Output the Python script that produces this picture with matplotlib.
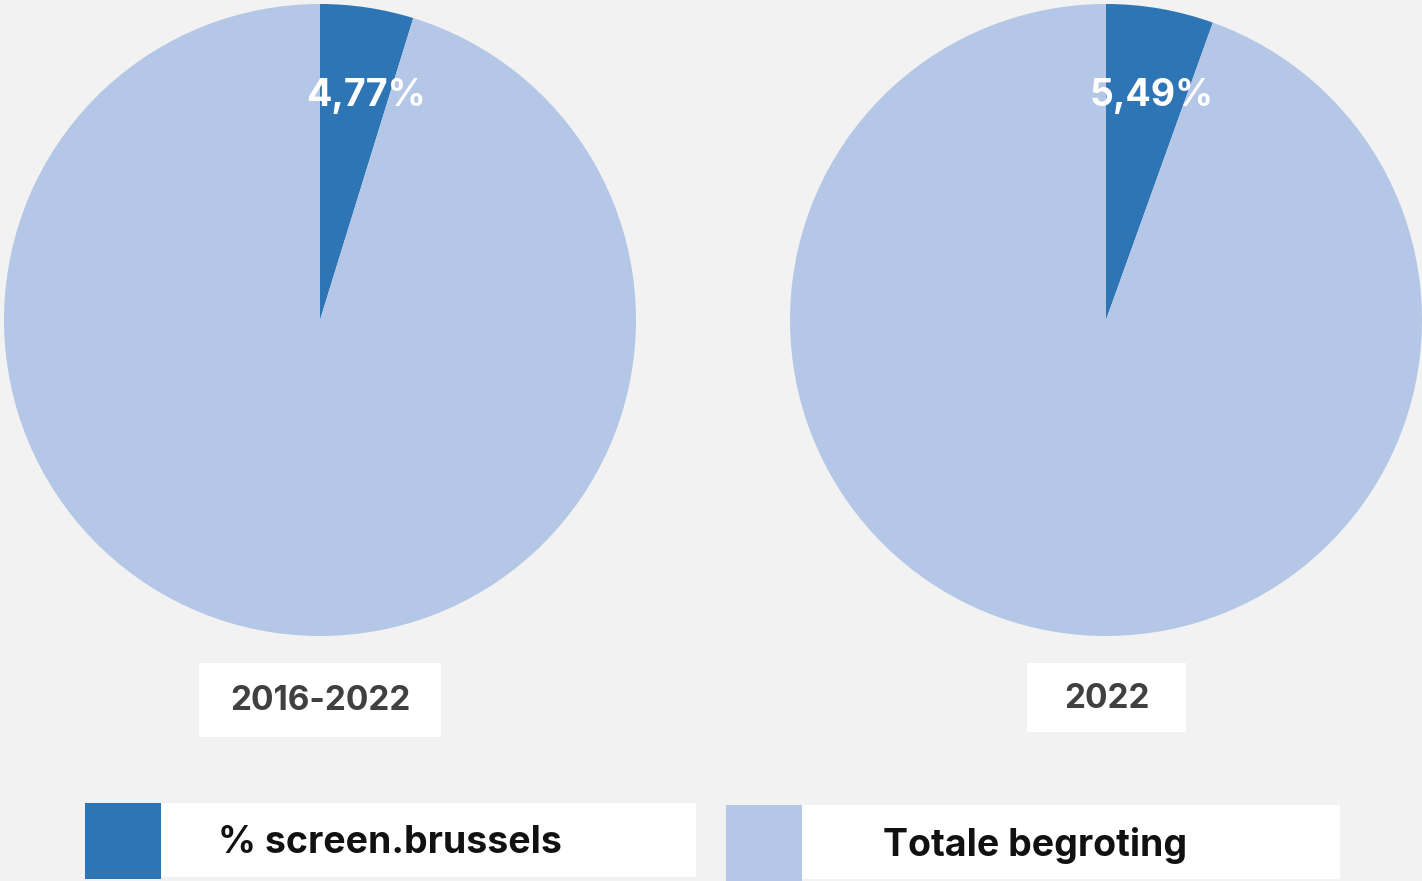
import matplotlib
matplotlib.use('Agg')
import matplotlib.pyplot as plt
from matplotlib.patches import Rectangle

# data
periods = ['2016-2022', '2022']
share_pct = [4.77, 5.49]
share_labels = ['4,77%', '5,49%']
legend_labels = ['% screen.brussels', 'Totale begroting']

DARK = '#2e75b6'
LIGHT = '#b4c7e7'
BG = '#f2f2f2'

W, H = 1422, 881
plt.rcParams['font.family'] = ['Inter', 'DejaVu Sans']

fig = plt.figure(figsize=(W / 100, H / 100), dpi=100, facecolor=BG)


def frac(x, y, w, h):
    # pixel box (top-left origin) -> figure fraction
    return [x / W, 1 - (y + h) / H, w / W, h / H]


def box(x, y, w, h, color):
    fig.patches.append(Rectangle(frac(x, y, w, h)[:2], w / W, h / H,
                                 transform=fig.transFigure, facecolor=color,
                                 edgecolor='none', zorder=0))


centers = [320, 1106]
radius = 316
year_boxes = [(199, 663, 242, 74), (1027, 663, 159, 69)]

for cx, pct, lab, per, yb in zip(centers, share_pct, share_labels, periods, year_boxes):
    ax = fig.add_axes(frac(cx - radius, 320 - radius, 2 * radius, 2 * radius))
    ax.pie([pct, 100 - pct], colors=[DARK, LIGHT], startangle=90,
           counterclock=False, radius=1, wedgeprops=dict(linewidth=0))
    ax.set_xlim(-1, 1)
    ax.set_ylim(-1, 1)
    ax.set_aspect('equal')
    ax.axis('off')
    ax.text(0.145, 0.71, lab, color='white', fontsize=27, fontweight='bold',
            ha='center', va='center')

    bx, by, bw, bh = yb
    box(bx, by, bw, bh, 'white')
    fig.text((bx + bw / 2) / W, 1 - (by + bh / 2 + 1) / H, per, color='#404040',
             fontsize=24, fontweight='bold', ha='center', va='center')

# legend
legend_boxes = [(85, 803, 611, 390), (726, 805, 614, 1035)]
for (lx, ly, lw, tx), lab, col in zip(legend_boxes, legend_labels, [DARK, LIGHT]):
    box(lx, ly, 76, 76, col)
    box(lx + 76, ly, lw - 76, 74, 'white')
    fig.text(tx / W, 1 - (ly + 40) / H, lab,
             color='#111111', fontsize=27, fontweight='bold',
             ha='center', va='center')

fig.savefig('out.png', dpi=100, facecolor=BG)
